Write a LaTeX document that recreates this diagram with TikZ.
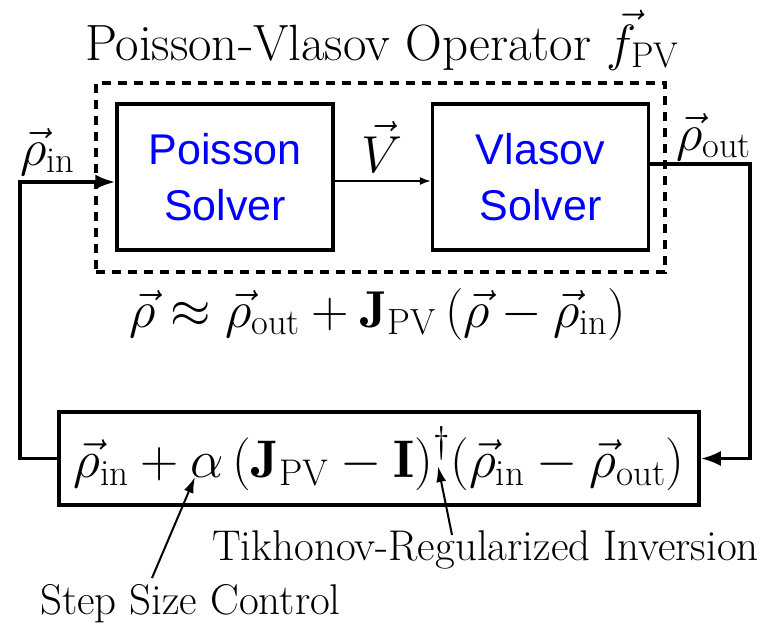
\RequirePackage{fix-cm}
\documentclass[tikz,border=0pt]{standalone}
\usepackage{amsmath}
\usepackage{fontspec}
\newfontfamily\solverfont{Liberation Sans}
\usetikzlibrary{arrows.meta}
\begin{document}
\begin{tikzpicture}[x=1pt,y=-1pt,
  solverbox/.style={draw,line width=3.5pt,minimum width=216pt,minimum height=146pt,inner sep=0pt,align=center,text=blue,font=\solverfont\fontsize{43}{56}\selectfont},
  eqbox/.style={draw,line width=3.5pt,minimum width=640pt,minimum height=93pt,inner sep=0pt,font=\fontsize{53}{60}\selectfont},
  bigtext/.style={inner sep=0pt,font=\fontsize{51}{56}\selectfont},
  mathlbl/.style={inner sep=0pt,font=\fontsize{52}{60}\selectfont},
  annottext/.style={inner sep=0pt,font=\fontsize{43}{48}\selectfont},
  flow/.style={line width=3.5pt,-{Latex[length=20pt,width=15pt]}},
  thinflow/.style={line width=1.5pt,-{Latex[length=11pt,width=8pt]}},
  annot/.style={line width=2pt,-{Latex[length=16pt,width=10pt]}},
  dashbox/.style={draw,line width=3.5pt,dash pattern=on 9pt off 7pt}]
\useasboundingbox (0,0) rectangle (772,627);
% dashed operator box
\node[dashbox,minimum width=569pt,minimum height=189pt,inner sep=0pt] (op) at (380.5,177.5) {};
\node[bigtext,anchor=base] (title) at (382,60) {Poisson-Vlasov Operator $\vec{f}_{\mathrm{PV}}$};
% solvers
\node[solverbox] (poisson) at (225,177) {Poisson\\Solver};
\node[solverbox] (vlasov) at (540.5,177) {Vlasov\\Solver};
\draw[thinflow] (poisson.east |- 0,181) -- (vlasov.west |- 0,181);
\node[mathlbl,anchor=base] (vlbl) at (382,172) {$\vec{V}$};
% middle equation
\node[mathlbl,anchor=base] (approx) at (378,327) {$\vec{\rho} \approx \vec{\rho}_{\mathrm{out}} + \mathbf{J}_{\mathrm{PV}}\left(\vec{\rho} - \vec{\rho}_{\mathrm{in}}\right)$};
% bottom update box
\node[eqbox] (update) at (379,458.5) {$\vec{\rho}_{\mathrm{in}} + \alpha\,{\left(\mathbf{J}_{\mathrm{PV}} - \mathbf{I}\right)}^{\dagger}(\vec{\rho}_{\mathrm{in}} - \vec{\rho}_{\mathrm{out}})$};
% labels
\node[mathlbl,anchor=base west] (rin) at (20,165) {$\vec{\rho}_{\mathrm{in}}$};
\node[mathlbl,anchor=base west] (rout) at (676,150) {$\vec{\rho}_{\mathrm{out}}$};
% feedback loop
\coordinate (leftx) at (20,0);
\coordinate (rightx) at (750,0);
\draw[flow] (update.west) -- (leftx |- update.west) |- ([yshift=-5pt]poisson.west);
\draw[flow] ([yshift=13pt]vlasov.east) -| (rightx |- update.east) -- (update.east);
% annotations
\node[annottext,anchor=base west] (tikh) at (212,560) {Tikhonov-Regularized Inversion};
\node[annottext,anchor=base west] (step) at (40,614) {Step Size Control};
\coordinate (alphapt) at (195,477);
\coordinate (daggerpt) at (438,466);
\coordinate (steptail) at (152,578);
\coordinate (tikhtail) at (452,535);
\draw[annot] (steptail) -- (alphapt);
\draw[annot] (tikhtail) -- (daggerpt);
\end{tikzpicture}
\end{document}
